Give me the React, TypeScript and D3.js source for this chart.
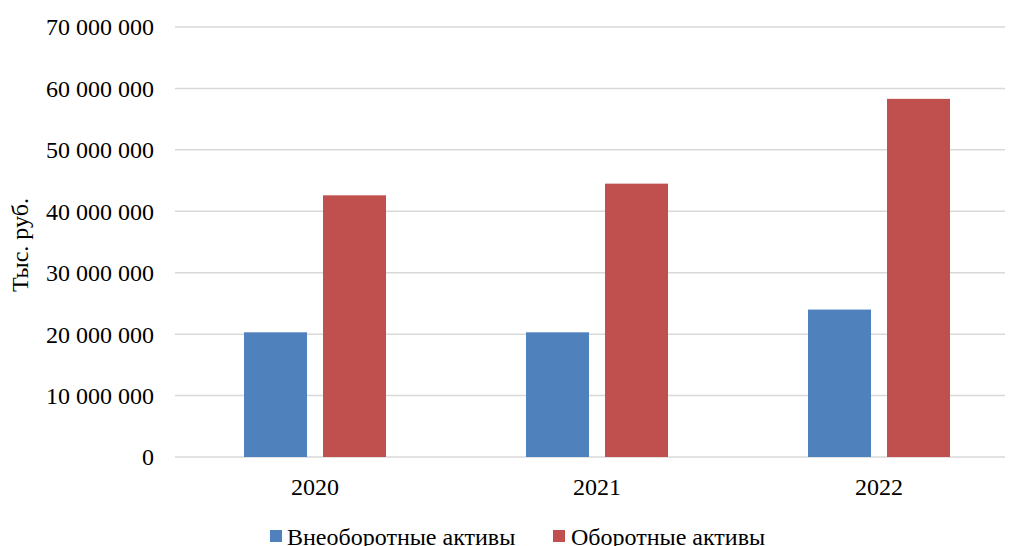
import React from "react";
import * as d3 from "d3";

const categories = ["2020", "2021", "2022"];
const seriesNames = ["Внеоборотные активы", "Оборотные активы"];
const nonCurrent = [20300000, 20300000, 24000000];
const current = [42600000, 44500000, 58300000];
const yTicks = [0, 10000000, 20000000, 30000000, 40000000, 50000000, 60000000, 70000000];
const colors = ["#4f81bd", "#c0504d"];

const W = 1009;
const H = 546;
const left = 175;
const right = 1005;
const top = 27;
const bottom = 457;
const FONT = "Liberation Serif";
const FS = 24;

export default function App() {
  const x = d3.scaleBand<string>().domain(categories).range([174, 1020]).paddingInner(0).paddingOuter(0);
  const y = d3.scaleLinear().domain([0, 70000000]).range([bottom, top]);
  const fmt = (v: number) => d3.format(",")(v).replace(/,/g, " ");
  const barW = 63;
  const gap = 16;
  const series = [nonCurrent, current];
  return (
    <svg width={W} height={H} style={{ position: "absolute", left: 0, top: 0 }}>
      <rect width={W} height={H} fill="#fff" />
      {yTicks.map((t) => (
        <g key={t}>
          <line x1={left} x2={right} y1={y(t)} y2={y(t)} stroke="#d9d9d9" strokeWidth={1.5} />
          <text x={154} y={y(t)} dy="0.35em" textAnchor="end" fontSize={FS} fill="#000" fontFamily={FONT}>
            {fmt(t)}
          </text>
        </g>
      ))}
      {categories.map((c, i) => {
        const cx = (x(c) as number) + x.bandwidth() / 2;
        return (
          <g key={c}>
            {series.map((s, j) => {
              const bx = cx - gap / 2 - barW + j * (barW + gap);
              return (
                <rect key={j} x={bx} y={y(s[i])} width={barW} height={y(0) - y(s[i])} fill={colors[j]} />
              );
            })}
            <text x={cx} y={495} textAnchor="middle" fontSize={FS} fill="#000" fontFamily={FONT}>
              {c}
            </text>
          </g>
        );
      })}
      <text transform={`translate(28,${(top + bottom) / 2 + 3}) rotate(-90)`} textAnchor="middle" fontSize={FS} fill="#000" fontFamily={FONT}>
        Тыс. руб.
      </text>
      <g>
        <rect x={270} y={530} width={12} height={12} fill={colors[0]} />
        <text x={287} y={545} fontSize={FS} fill="#000" fontFamily={FONT}>{seriesNames[0]}</text>
        <rect x={553} y={530} width={12} height={12} fill={colors[1]} />
        <text x={571} y={545} fontSize={FS} fill="#000" fontFamily={FONT}>{seriesNames[1]}</text>
      </g>
    </svg>
  );
}
